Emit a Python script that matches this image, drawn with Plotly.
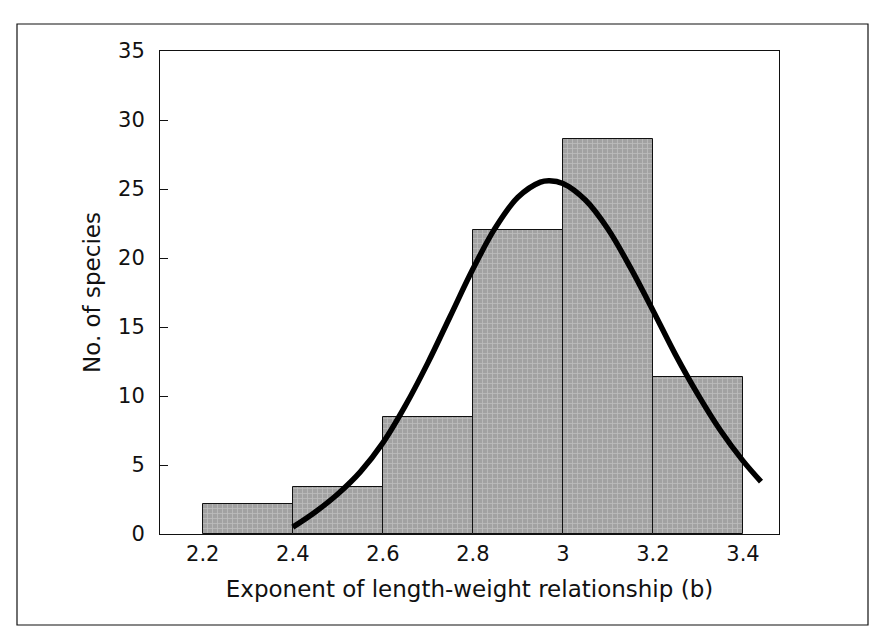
import plotly.graph_objects as go

# Histogram bins (centres, width 0.2) and counts
bin_centers = [2.3, 2.5, 2.7, 2.9, 3.1, 3.3]
counts = [2.2, 3.4, 8.5, 22.0, 28.6, 11.4]

# Fitted curve, points
curve_x = [2.40, 2.45, 2.50, 2.55, 2.60, 2.65, 2.70, 2.75, 2.80, 2.85, 2.90, 2.95, 2.97,
           3.00, 3.05, 3.10, 3.15, 3.20, 3.25, 3.30, 3.35, 3.40, 3.44]
curve_y = [0.5, 1.6, 2.9, 4.5, 6.6, 9.3, 12.4, 15.8, 19.2, 22.2, 24.4, 25.5, 25.6,
           25.4, 24.2, 22.1, 19.3, 16.2, 13.0, 10.1, 7.5, 5.3, 3.8]

x_ticks = [2.2, 2.4, 2.6, 2.8, 3.0, 3.2, 3.4]
x_tick_labels = ["2.2", "2.4", "2.6", "2.8", "3", "3.2", "3.4"]
y_ticks = [0, 5, 10, 15, 20, 25, 30, 35]

FONT = "DejaVu Sans"
L, T, R, B = 152, 43, 114, 107
PW, PH = 885 - L - R, 633 - T - B

fig = go.Figure()
fig.add_trace(go.Bar(
    x=bin_centers, y=counts, width=0.2,
    marker=dict(color="#aaaaaa", line=dict(color="#111111", width=1),
                pattern=dict(shape="+", size=5, solidity=0.3, fgcolor="#d6d6d6", bgcolor="#a2a2a2")),
    showlegend=False,
))
fig.add_trace(go.Scatter(
    x=curve_x, y=curve_y, mode="lines", line=dict(color="black", width=5.5, shape="spline"),
    showlegend=False,
))

fig.update_layout(
    width=885, height=633,
    margin=dict(l=L, r=R, t=T, b=B),
    paper_bgcolor="white", plot_bgcolor="white",
    font=dict(family=FONT, size=21, color="#111111"),
    bargap=0,
    xaxis=dict(
        range=[2.105, 3.48], tickvals=x_ticks, ticktext=x_tick_labels,
        ticks="", showgrid=False, zeroline=False,
        showline=True, linecolor="#111111", linewidth=1, mirror=True,
        ticklabelstandoff=1,
        title=dict(text="Exponent of length-weight relationship (b)", standoff=15,
                   font=dict(size=23)),
    ),
    yaxis=dict(
        range=[0, 35], tickvals=y_ticks, ticks="inside", ticklen=8, tickcolor="#111111",
        showgrid=False, zeroline=False,
        showline=True, linecolor="#111111", linewidth=1, mirror=True,
        ticklabelstandoff=10,
        title=dict(text="No. of species", standoff=11, font=dict(size=23)),
    ),
    shapes=[dict(type="rect", xref="paper", yref="paper",
                 x0=(9 - L) / PW, x1=1 + (860 - (L + PW)) / PW,
                 y0=-(617 - (T + PH)) / PH, y1=1 + (T - 16) / PH,
                 line=dict(color="#111111", width=1.2))],
)

fig.write_html("out.html")
